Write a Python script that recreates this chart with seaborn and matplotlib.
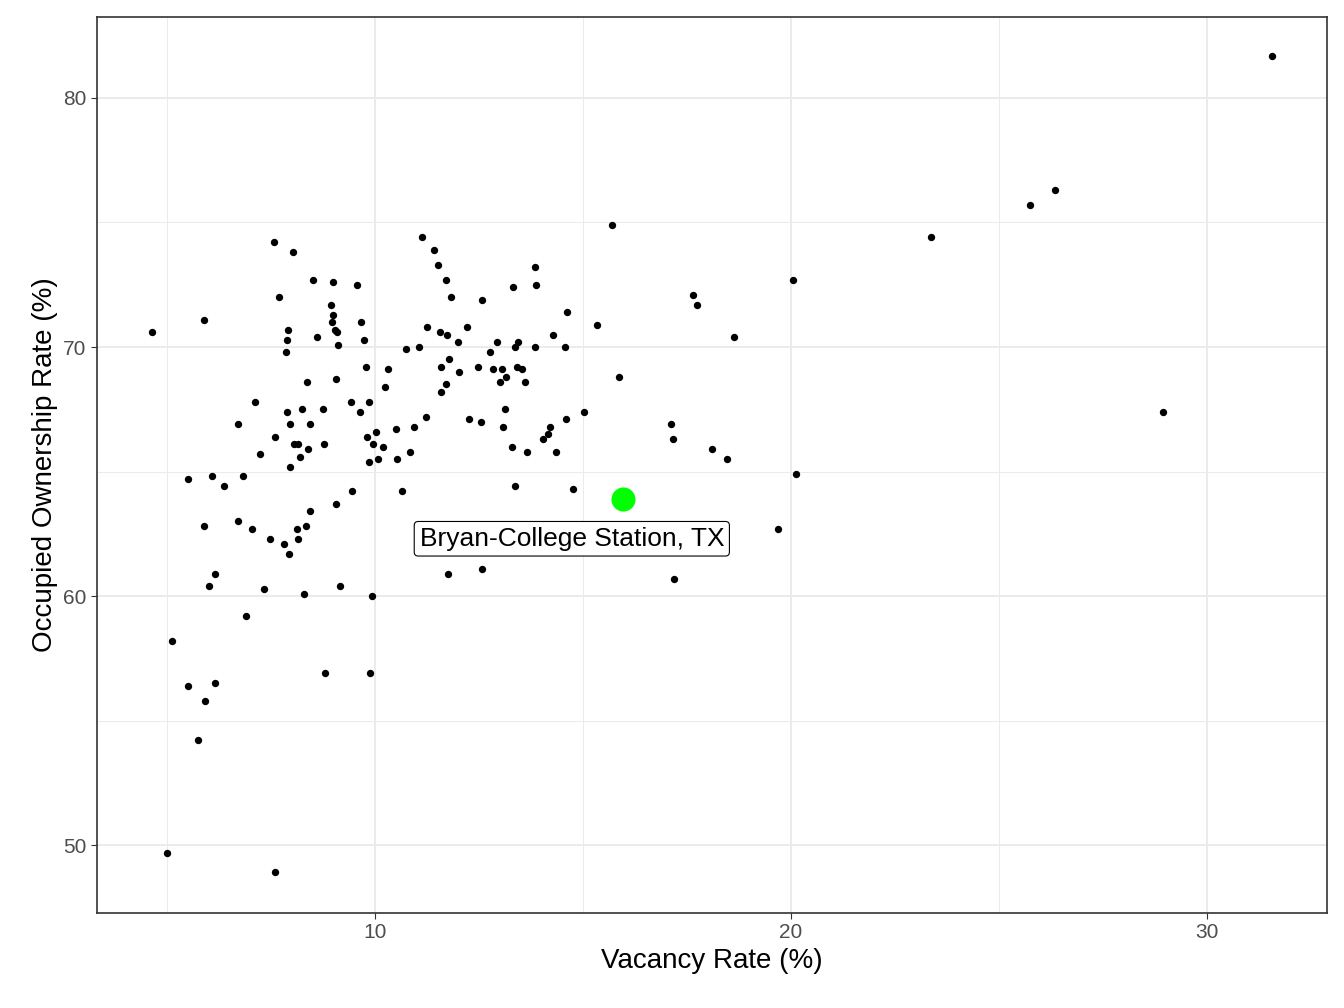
import matplotlib
matplotlib.use("Agg")
import matplotlib.pyplot as plt
import seaborn as sns
import pandas as pd
from matplotlib.ticker import MultipleLocator

plt.rcParams["font.family"] = "Liberation Sans"

# metro areas: vacancy rate vs occupied ownership rate
vacancy = [4.64, 5.0, 5.12, 5.5, 5.5, 5.75, 5.89, 5.89, 5.91, 6.0, 6.08, 6.15, 6.15, 6.37, 6.71, 6.71,
           6.83, 6.9, 7.04, 7.12, 7.24, 7.33, 7.48, 7.57, 7.6, 7.6, 7.69, 7.81, 7.86, 7.88, 7.88, 7.91,
           7.93, 7.96, 7.96, 8.03, 8.05, 8.13, 8.15, 8.15, 8.2, 8.25, 8.29, 8.34, 8.37, 8.39, 8.44, 8.44,
           8.51, 8.61, 8.75, 8.77, 8.8, 8.94, 8.99, 8.97, 8.99, 9.04, 9.06, 9.06, 9.09, 9.11, 9.16, 9.42,
           9.45, 9.57, 9.64, 9.66, 9.74, 9.78, 9.81, 9.86, 9.86, 9.88, 9.93, 9.95, 10.02, 10.07, 10.19,
           10.24, 10.31, 10.5, 10.53, 10.65, 10.75, 10.84, 10.94, 11.06, 11.13, 11.23, 11.25, 11.42,
           11.51, 11.56, 11.59, 11.59, 11.71, 11.71, 11.73, 11.78, 11.75, 11.83, 12.0, 12.02, 12.21,
           12.26, 12.48, 12.55, 12.57, 12.57, 12.76, 12.84, 12.93, 13.0, 13.05, 13.08, 13.13, 13.15,
           13.29, 13.32, 13.37, 13.37, 13.41, 13.44, 13.53, 13.61, 13.65, 13.85, 13.87, 13.85, 14.04,
           14.16, 14.21, 14.28, 14.34, 14.57, 14.59, 14.62, 14.76, 15.02, 15.34, 15.7, 15.87, 17.12,
           17.16, 17.19, 17.64, 17.74, 18.1, 18.46, 18.63, 19.69, 20.05, 20.12, 23.37, 25.75, 26.35,
           28.94, 31.56]
ownership = [70.6, 49.7, 58.2, 64.7, 56.4, 54.2, 71.1, 62.8, 55.8, 60.4, 64.8, 60.9, 56.5, 64.4, 66.9, 63.0,
             64.8, 59.2, 62.7, 67.8, 65.7, 60.3, 62.3, 74.2, 66.4, 48.9, 72.0, 62.1, 69.8, 70.3, 67.4, 70.7,
             61.7, 66.9, 65.2, 73.8, 66.1, 62.7, 66.1, 62.3, 65.6, 67.5, 60.1, 62.8, 68.6, 65.9, 66.9, 63.4,
             72.7, 70.4, 67.5, 66.1, 56.9, 71.7, 72.6, 71.0, 71.3, 70.7, 68.7, 63.7, 70.6, 70.1, 60.4, 67.8,
             64.2, 72.5, 67.4, 71.0, 70.3, 69.2, 66.4, 67.8, 65.4, 56.9, 60.0, 66.1, 66.6, 65.5, 66.0,
             68.4, 69.1, 66.7, 65.5, 64.2, 69.9, 65.8, 66.8, 70.0, 74.4, 67.2, 70.8, 73.9,
             73.3, 70.6, 68.2, 69.2, 68.5, 72.7, 70.5, 69.5, 60.9, 72.0, 70.2, 69.0, 70.8,
             67.1, 69.2, 67.0, 61.1, 71.9, 69.8, 69.1, 70.2, 68.6, 69.1, 66.8, 67.5, 68.8,
             66.0, 72.4, 64.4, 70.0, 69.2, 70.2, 69.1, 68.6, 65.8, 73.2, 72.5, 70.0, 66.3,
             66.5, 66.8, 70.5, 65.8, 70.0, 67.1, 71.4, 64.3, 67.4, 70.9, 74.9, 68.8, 66.9,
             66.3, 60.7, 72.1, 71.7, 65.9, 65.5, 70.4, 62.7, 72.7, 64.9, 74.4, 75.7, 76.3,
             67.4, 81.7]
highlight_name = "Bryan-College Station, TX"
highlight_x = [15.96]
highlight_y = [63.9]

df = pd.DataFrame({"vacancy": vacancy, "ownership": ownership})

fig = plt.figure(figsize=(13.44, 10.08), dpi=100)
ax = fig.add_axes([0.0722, 0.0942, 0.9152, 0.8889])
sns.scatterplot(data=df, x="vacancy", y="ownership", color="black", s=28, linewidth=0, ax=ax)
sns.scatterplot(x=highlight_x, y=highlight_y, color="#00ff00", s=300, linewidth=0, ax=ax)
ax.annotate(highlight_name, (highlight_x[0], highlight_y[0]), xytext=(14.73, 62.3),
            textcoords="data", ha="center", va="center", fontsize=19,
            bbox=dict(boxstyle="round,pad=0.2,rounding_size=0.15", fc="white", ec="black", lw=0.8))

ax.set_xlim(3.32, 32.88)
ax.set_ylim(47.27, 83.25)
ax.xaxis.set_major_locator(MultipleLocator(10))
ax.xaxis.set_minor_locator(MultipleLocator(5))
ax.yaxis.set_major_locator(MultipleLocator(10))
ax.yaxis.set_minor_locator(MultipleLocator(5))
ax.grid(which="major", color="#ebebeb", lw=1.4)
ax.grid(which="minor", color="#ebebeb", lw=0.7)
ax.set_axisbelow(True)
ax.tick_params(which="minor", length=0)
ax.tick_params(which="major", length=4, color="#333333", labelsize=15, labelcolor="#4d4d4d")
for s in ax.spines.values():
    s.set_color("#333333")
    s.set_linewidth(1.2)
ax.set_xlabel("Vacancy Rate (%)", fontsize=20)
ax.set_ylabel("Occupied Ownership Rate (%)", fontsize=20)

fig.savefig("out.png", dpi=100)
